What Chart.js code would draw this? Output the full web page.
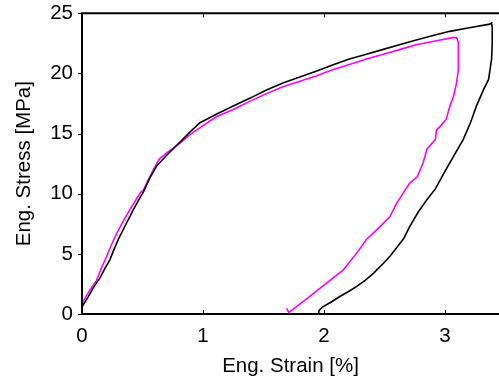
<!DOCTYPE html>
<html><head><meta charset="utf-8">
<script src="https://cdn.jsdelivr.net/npm/chart.js@4/dist/chart.umd.min.js"></script>
<style>html,body{margin:0;padding:0;background:#fff}#wrap{width:499px;height:380px}</style>
</head><body><div id="wrap"><canvas id="c" width="499" height="380"></canvas></div>
<script>
const xTicks = [0, 1, 2, 3];
const yTicks = [0, 5, 10, 15, 20, 25];
const xTitle = 'Eng. Strain [%]';
const yTitle = 'Eng. Stress [MPa]';

const blackStrain = [0,0.05,0.10,0.149,0.19,0.23,0.27,0.30,0.36,0.42,0.47,0.51,0.56,0.617,0.70,0.81,0.90,0.975,1.11,1.25,1.39,1.52,1.66,1.80,1.94,2.07,2.21,2.35,2.49,2.63,2.77,2.90,3.04,3.20,3.37,3.385,
  3.39,3.39,3.385,3.36,3.32,3.26,3.21,3.15,3.07,2.99,2.92,2.85,2.78,2.71,2.66,2.60,2.545,2.48,2.41,2.34,2.27,2.20,2.13,2.06,1.99,1.96,1.955];
const blackStress = [0.6,1.4,2.3,3.0,3.8,4.5,5.5,6.2,7.4,8.6,9.5,10.2,11.3,12.3,13.2,14.3,15.2,15.9,16.6,17.3,17.95,18.6,19.2,19.7,20.2,20.7,21.2,21.6,22.0,22.4,22.8,23.15,23.5,23.8,24.1,24.2,
  23.8,22.5,21.2,19.5,18.7,17.3,15.9,14.5,13.1,11.7,10.4,9.5,8.5,7.3,6.3,5.5,4.8,4.1,3.4,2.8,2.3,1.85,1.45,1.0,0.6,0.3,0.0];

const magentaStrain = [0,0.06,0.12,0.16,0.204,0.245,0.287,0.34,0.397,0.44,0.48,0.507,0.55,0.59,0.64,0.70,0.81,0.89,0.975,1.11,1.25,1.39,1.52,1.66,1.80,1.94,2.07,2.21,2.35,2.49,2.63,2.77,2.92,3.07,3.095,3.11,
  3.11,3.11,3.095,3.07,3.04,3.01,2.96,2.93,2.92,2.85,2.82,2.77,2.71,2.67,2.60,2.545,2.435,2.35,2.27,2.16,2.02,1.88,1.77,1.71,1.69];
const magentaStress = [0.9,1.9,2.8,3.8,4.8,5.8,6.7,7.7,8.7,9.4,10.06,10.3,11.2,12.0,12.9,13.4,14.2,14.9,15.5,16.4,17.0,17.7,18.3,18.9,19.35,19.8,20.3,20.75,21.2,21.6,22.0,22.4,22.7,23.0,22.97,22.6,
  21.5,20.3,19.2,18.1,17.3,16.2,15.6,15.3,14.5,13.7,12.6,11.4,10.9,10.3,9.2,8.1,7.0,6.2,5.06,3.67,2.56,1.44,0.6,0.14,0.47];

const toPts = (xs, ys) => xs.map((x, i) => ({x: x, y: ys[i]}));
const FONT = "'Liberation Sans', Arial, sans-serif";

const frame = {
  id: 'frame',
  afterDraw(chart) {
    const {ctx, chartArea: a, scales: {x, y}} = chart;
    ctx.save();
    ctx.strokeStyle = '#000';
    ctx.lineWidth = 2;
    ctx.beginPath();
    ctx.moveTo(a.left, a.bottom); ctx.lineTo(a.left, a.top); ctx.lineTo(a.right + 2, a.top);
    ctx.moveTo(a.left, a.bottom); ctx.lineTo(a.right + 2, a.bottom);
    ctx.stroke();
    ctx.lineWidth = 1;
    ctx.beginPath();
    xTicks.forEach(v => {
      const px = Math.round(x.getPixelForValue(v)) + 0.5;
      ctx.moveTo(px, a.bottom); ctx.lineTo(px, a.bottom - 4);
      ctx.moveTo(px, a.top); ctx.lineTo(px, a.top + 4);
    });
    yTicks.forEach(v => {
      const py = Math.round(y.getPixelForValue(v)) + 0.5;
      ctx.moveTo(a.left, py); ctx.lineTo(a.left - 4, py);
    });
    ctx.stroke();
    ctx.restore();
  }
};

new Chart(document.getElementById('c'), {
  type: 'scatter',
  data: {
    datasets: [
      {data: toPts(blackStrain, blackStress), showLine: true, borderColor: '#000000', borderWidth: 1.6, pointRadius: 0, tension: 0, fill: false},
      {data: toPts(magentaStrain, magentaStress), showLine: true, borderColor: '#ff00ff', borderWidth: 1.6, pointRadius: 0, tension: 0, fill: false}
    ]
  },
  options: {
    responsive: false,
    animation: false,
    devicePixelRatio: 1,
    layout: {padding: {top: 5, right: 0, left: 0, bottom: 0}},
    plugins: {legend: {display: false}, tooltip: {enabled: false}},
    scales: {
      x: {
        type: 'linear', min: 0, max: 3.446,
        afterBuildTicks: s => { s.ticks = xTicks.map(v => ({value: v})); },
        afterFit: s => { s.height = 66; },
        grid: {display: false}, border: {display: false},
        ticks: {color: '#000', font: {family: FONT, size: 20.5}, padding: 2, maxRotation: 0},
        title: {display: true, text: xTitle, color: '#000', font: {family: FONT, size: 20.5, lineHeight: 1}, padding: {top: 4, bottom: 3}}
      },
      y: {
        type: 'linear', min: 0, max: 25,
        afterBuildTicks: s => { s.ticks = yTicks.map(v => ({value: v})); },
        afterFit: s => { s.width = 82; },
        grid: {display: false}, border: {display: false},
        ticks: {color: '#000', font: {family: FONT, size: 20.5}, padding: 1},
        title: {display: true, text: yTitle, color: '#000', font: {family: FONT, size: 20.5, lineHeight: 1}, padding: {top: 14, bottom: 4}}
      }
    }
  },
  plugins: [frame]
});
</script></body></html>
